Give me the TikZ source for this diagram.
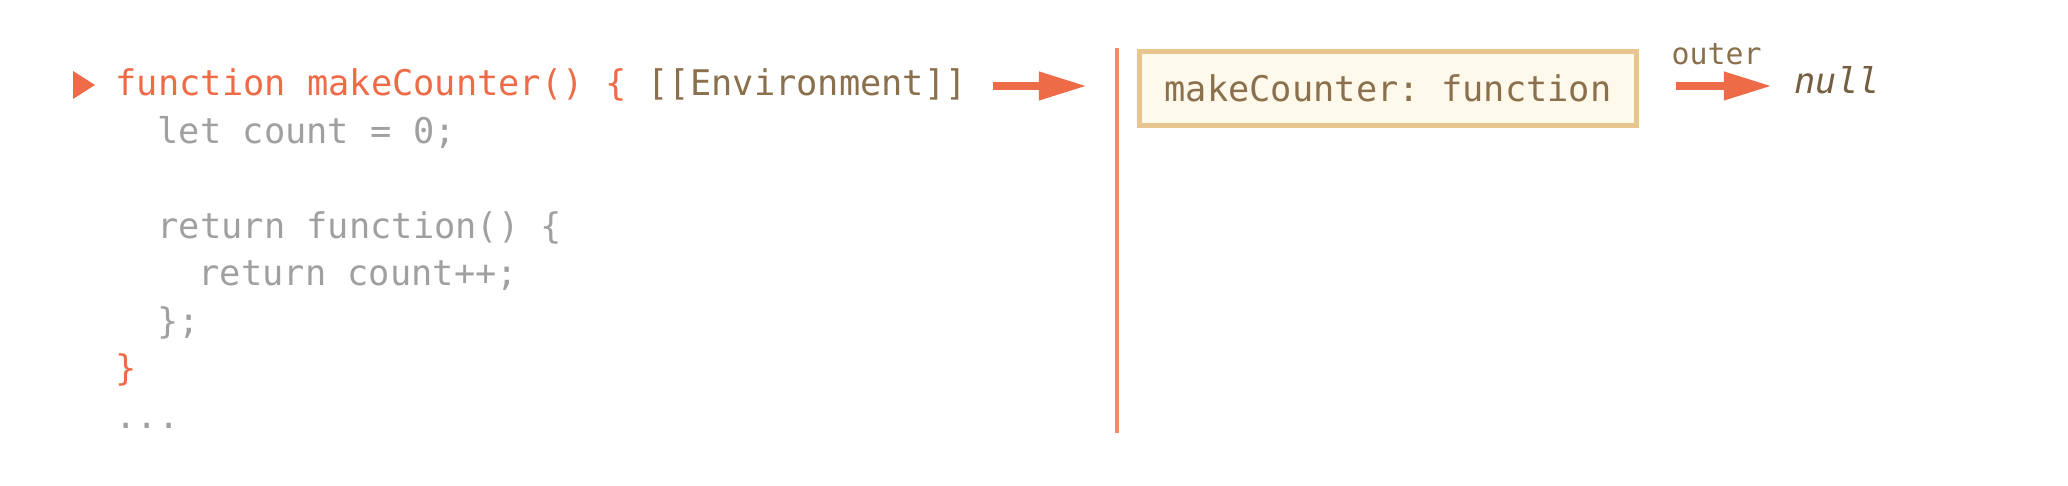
\documentclass[tikz,border=0pt]{standalone}
\usepackage{fontspec}
\setmonofont{DejaVu Sans Mono}
\usepackage{xcolor}
\usetikzlibrary{arrows.meta, positioning}
\definecolor{jsorange}{HTML}{EE6B47}
\definecolor{jsbrown}{HTML}{8A704D}
\definecolor{jsgray}{HTML}{A0A0A0}
\definecolor{lexfill}{HTML}{FFF9EB}
\definecolor{lexdraw}{HTML}{E8C48F}
\definecolor{divline}{HTML}{F08A70}
\tikzset{
  codeline/.style={anchor=base west, inner sep=0pt, text=jsgray,
                   font=\fontsize{10.05pt}{12pt}\ttfamily},
  lexbox/.style={draw=lexdraw, fill=lexfill, line width=1.4pt,
                 minimum width=4.97cm, minimum height=0.74cm,
                 inner sep=0pt, text=jsbrown,
                 font=\fontsize{10.05pt}{12pt}\ttfamily},
  bigarrow/.style={-{Triangle[length=13.7pt, width=7.6pt]}, line width=2.3pt,
                   draw=jsorange},
  divider/.style={draw=divline, line width=1pt}
}

\begin{document}
\begin{tikzpicture}[x=0.01cm, y=-0.01cm]
  \useasboundingbox (0,0) rectangle (2068,486);

  % code on the left
  \fill[jsorange] (73,71) -- (95,85) -- (73,99) -- cycle;
  \node[codeline] (l1) at (115,96)
    {{\color{jsorange}function makeCounter() \{} {\color{jsbrown}[[Environment]]}};
  \node[codeline] (l2) at (157,143.5) {let count = 0;};
  \node[codeline] (l4) at (157,238.5) {return function() \{};
  \node[codeline] (l5) at (198,286) {return count++;};
  \node[codeline] (l6) at (157,333.5) {\};};
  \node[codeline, text=jsorange] (l7) at (115,381) {\}};
  \node[codeline] (l8) at (115,428.5) {...};

  % lexical environment
  \coordinate (envend) at (1087,86);
  \coordinate (divtop) at (1117,48);
  \coordinate (divbot) at (1117,433);
  \node[lexbox] (lex) at (1388,88.5) {makeCounter: function};
  \node[anchor=base west, inner sep=0pt, text=jsbrown!85!black,
        font=\fontsize{10.05pt}{12pt}\ttfamily\itshape] (null) at (1794,94) {null};

  \draw[divider] (divtop) -- (divbot);
  \draw[bigarrow, shorten <=0.25cm] (l1.east |- envend) -- (envend);
  \draw[bigarrow, shorten <=0.37cm, shorten >=0.22cm]
    (lex.east |- envend) -- node[above=0.05cm, text=jsbrown,
                       font=\fontsize{8.5pt}{10pt}\ttfamily] (outer) {outer}
    (null.west |- envend);
\end{tikzpicture}
\end{document}
